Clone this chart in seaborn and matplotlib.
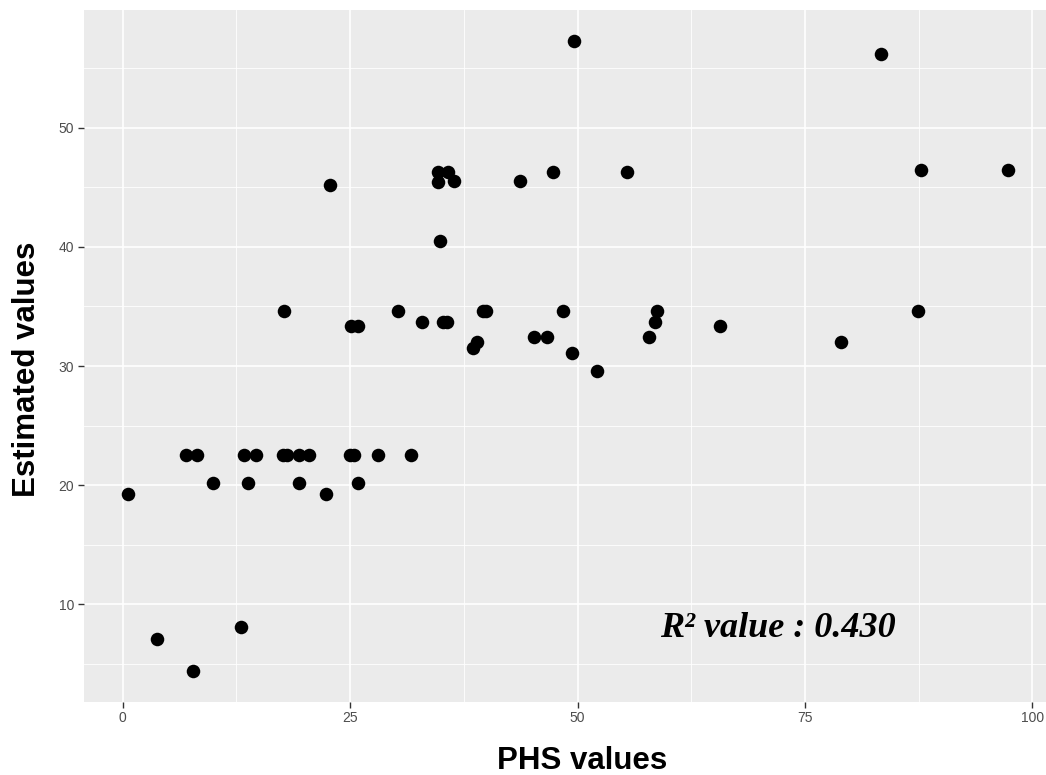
import numpy as np
import pandas as pd
import matplotlib
matplotlib.use("Agg")
import matplotlib.pyplot as plt
import seaborn as sns
from matplotlib.ticker import MultipleLocator

# values
phs = [0.55, 3.74, 7.7, 6.93, 8.2, 9.9, 12.97, 13.37, 13.81, 14.69,
       17.59, 18.03, 19.42, 19.42, 20.52, 22.35, 22.83, 17.77, 24.99, 25.43,
       28.03, 31.7, 25.87, 25.07, 25.87, 30.3, 32.94, 35.25, 35.69, 34.63,
       35.8, 34.63, 36.42, 34.88, 39.65, 39.94, 38.98, 38.55, 43.65, 47.34,
       45.22, 46.61, 48.44, 49.43, 49.58, 52.11, 55.48, 57.9, 58.56, 58.7,
       65.67, 79.0, 83.33, 87.4, 87.76, 97.3]
estimated = [19.23, 7.06, 4.4, 22.5, 22.5, 20.18, 8.07, 22.5, 20.18, 22.5,
             22.5, 22.5, 22.5, 20.18, 22.5, 19.23, 45.17, 34.64, 22.5, 22.5,
             22.5, 22.5, 20.2, 33.36, 33.36, 34.64, 33.72, 33.72, 33.72, 46.31,
             46.31, 45.47, 45.53, 40.49, 34.64, 34.64, 32.04, 31.49, 45.55, 46.31,
             32.41, 32.41, 34.64, 31.12, 57.3, 29.61, 46.31, 32.41, 33.72, 34.64,
             33.36, 32.04, 56.19, 34.64, 46.48, 46.48]
r2_text = "R² value : 0.430"

df = pd.DataFrame({"PHS": phs, "Estimated": estimated})

plt.rcParams["font.family"] = ["Liberation Sans", "DejaVu Sans"]

fig = plt.figure(figsize=(10.46, 7.75), dpi=100)
ax = fig.add_axes([0.0803, 0.0946, 0.9197, 0.8931])

sns.scatterplot(data=df, x="PHS", y="Estimated", ax=ax, color="black",
                s=95, edgecolor="black", linewidth=0, zorder=3)

ax.set_facecolor("#EBEBEB")
ax.set_xlim(-4.25, 101.5)
ax.set_ylim(1.83, 59.92)
ax.xaxis.set_major_locator(MultipleLocator(25))
ax.xaxis.set_minor_locator(MultipleLocator(12.5))
ax.yaxis.set_major_locator(MultipleLocator(10))
ax.yaxis.set_minor_locator(MultipleLocator(5))
ax.set_yticks([10, 20, 30, 40, 50])
ax.grid(which="major", color="white", linewidth=1.2, zorder=0)
ax.grid(which="minor", color="white", linewidth=0.6, zorder=0)
ax.set_axisbelow(True)
for sp in ax.spines.values():
    sp.set_visible(False)
ax.tick_params(which="major", length=4, width=1, color="#333333",
               labelcolor="#4D4D4D", labelsize=10, pad=3)
ax.tick_params(which="minor", length=0)

ax.set_xlabel("PHS values", fontsize=22.5, fontweight="bold", labelpad=15)
ax.set_ylabel("Estimated values", fontsize=22.5, fontweight="bold", labelpad=12)
# the labels sit a little off the panel centre in the original
ax.xaxis.label.set_x(0.5177)
ax.yaxis.label.set_y(0.48)

ax.text(59.1, 8.0, r2_text, family="Liberation Serif", fontsize=26,
        fontweight="bold", fontstyle="italic", ha="left", va="center")

fig.savefig("out.png", dpi=100)
